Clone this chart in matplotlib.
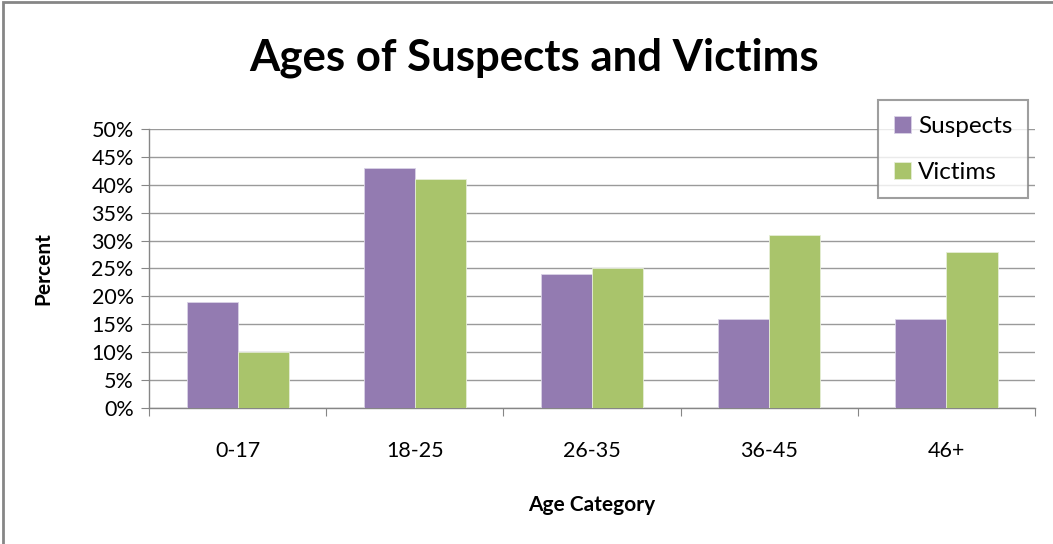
import numpy as np
import matplotlib
matplotlib.use("Agg")
import matplotlib.pyplot as plt
from matplotlib.patches import Rectangle
from matplotlib.ticker import FuncFormatter, MultipleLocator

plt.rcParams['font.family'] = ['Lato', 'DejaVu Sans']

# data
categories = ['0-17', '18-25', '26-35', '36-45', '46+']
suspects = [19, 43, 24, 16, 16]
victims = [10, 41, 25, 31, 28]

purple = '#937BB1'
green = '#A9C46B'
grid_col = '#9A9A9A'

fig = plt.figure(figsize=(10.53, 5.44), dpi=100)
ax = fig.add_axes([0.1415, 0.25, 0.8415, 0.513])

x = np.arange(len(categories))
w = 0.288
ax.bar(x - w / 2, suspects, w, color=purple, edgecolor='#D9D2E6', linewidth=0.6, label='Suspects', zorder=3)
ax.bar(x + w / 2, victims, w, color=green, edgecolor='#E6EED6', linewidth=0.6, label='Victims', zorder=3)

ax.set_xlim(-0.5, len(categories) - 0.5)
ax.set_ylim(0, 50)
ax.yaxis.set_major_locator(MultipleLocator(5))
ax.yaxis.set_major_formatter(FuncFormatter(lambda v, p: f'{v:.0f}%'))
ax.grid(axis='y', color=grid_col, linewidth=1.0, zorder=0)

# category ticks sit on boundaries, labels in the middle
ax.set_xticks(np.arange(-0.5, len(categories), 1.0))
ax.set_xticklabels([])
ax.set_xticks(x, minor=True)
ax.set_xticklabels(categories, minor=True)
ax.tick_params(axis='x', which='minor', length=0, pad=24, labelsize=15.5)
ax.tick_params(axis='x', which='major', length=6, color='#868686', direction='out')
ax.tick_params(axis='y', length=6, color='#868686', labelsize=15.5, pad=5)

for s in ['top', 'right']:
    ax.spines[s].set_visible(False)
for s in ['left', 'bottom']:
    ax.spines[s].set_color('#868686')
    ax.spines[s].set_linewidth(1.0)

ax.set_ylabel('Percent', fontsize=15, fontweight='bold', labelpad=27)
ax.set_xlabel('Age Category', fontsize=15, fontweight='bold', labelpad=24)

fig.text(0.507, 0.893, 'Ages of Suspects and Victims', ha='center', va='center',
         fontsize=31.5, fontweight='bold')

leg = ax.legend(loc='upper right', bbox_to_anchor=(0.992, 1.104), borderaxespad=0,
                fontsize=17.5, frameon=True, fancybox=False, handlelength=0.7,
                handleheight=0.7, labelspacing=1.02, borderpad=0.65, handletextpad=0.3)
leg.get_frame().set_edgecolor('#868686')
leg.get_frame().set_linewidth(1.5)

# outer chart border
fig.patches.append(Rectangle((0.003, -0.01), 1.2, 1.007, transform=fig.transFigure,
                             fill=False, edgecolor='#868686', linewidth=2.0))

fig.savefig('out.png', dpi=100)
